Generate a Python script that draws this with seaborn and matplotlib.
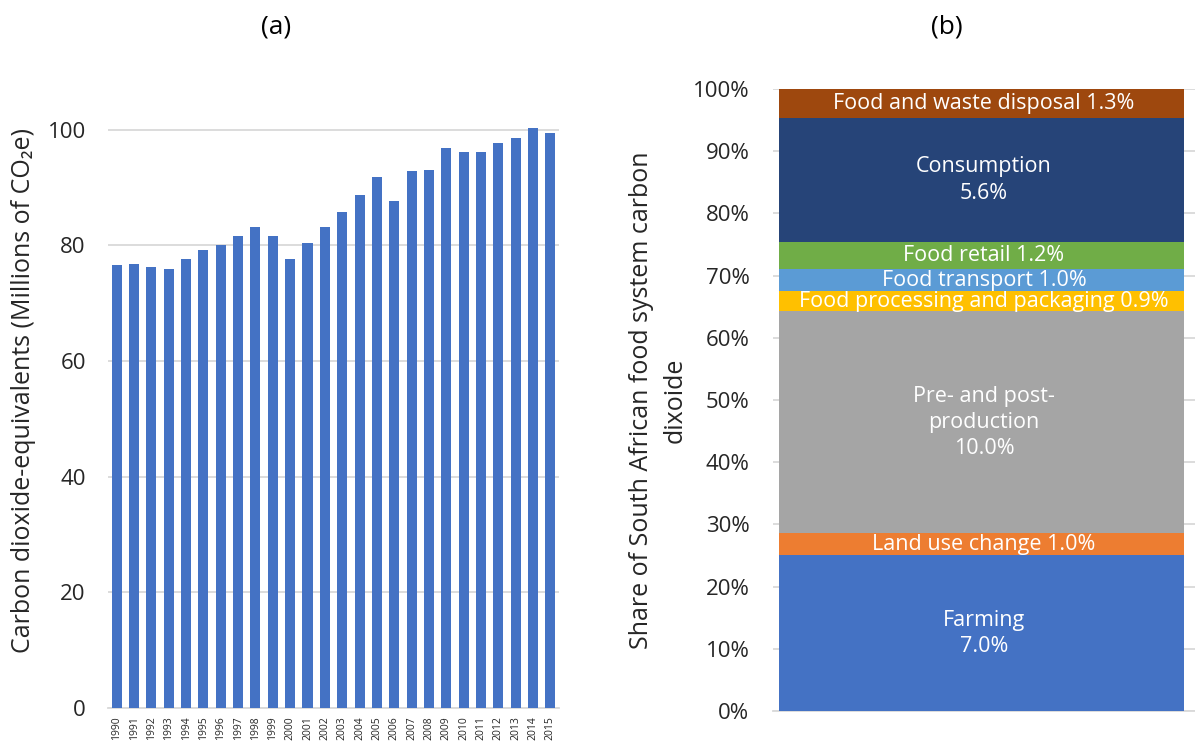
import matplotlib
matplotlib.use("Agg")
import matplotlib.pyplot as plt
import seaborn as sns
import numpy as np
import pandas as pd
from matplotlib.ticker import PercentFormatter

# (a) annual food-system emissions, millions of CO2e
years = list(range(1990, 2016))
emissions = [76.6, 76.8, 76.2, 75.9, 77.7, 79.3, 80.1, 81.6, 83.2, 81.7,
             77.7, 80.4, 83.2, 85.8, 88.8, 91.9, 87.7, 92.8, 93.0, 96.8,
             96.2, 96.2, 97.8, 98.6, 100.4, 99.4]

# (b) stages of the food system, share of national emissions (%)
stages = ["Farming", "Land use change", "Pre- and post-\nproduction",
          "Food processing and packaging", "Food transport", "Food retail",
          "Consumption", "Food and waste disposal"]
stage_pct = [7.0, 1.0, 10.0, 0.9, 1.0, 1.2, 5.6, 1.3]
label_break = ["\n", " ", "\n", " ", " ", " ", "\n", " "]
stage_colors = ["#4472C4", "#ED7D31", "#A5A5A5", "#FFC000",
                "#5B9BD5", "#70AD47", "#264478", "#9E480E"]

sns.set_style("white")
plt.rcParams["font.family"] = ["Open Sans", "DejaVu Sans"]

fig = plt.figure(figsize=(11.95, 7.47), dpi=100)
grid_col = "#D9D9D9"
text_col = "#262626"

# ---- (a) bar chart ----
ax1 = fig.add_axes([0.0904, 0.0522, 0.3774, 0.8514])
df_a = pd.DataFrame({"year": [str(y) for y in years], "emissions": emissions})
sns.barplot(data=df_a, x="year", y="emissions", color="#4472C4",
            saturation=1, width=0.58, linewidth=0, ax=ax1, zorder=3)
ax1.set_ylim(0, 110)
ax1.set_yticks(np.arange(0, 101, 20))
ax1.yaxis.grid(True, color=grid_col, lw=1.3, zorder=0)
ax1.set_axisbelow(True)
for s in ["top", "right", "left"]:
    ax1.spines[s].set_visible(False)
ax1.spines["bottom"].set_color(grid_col)
ax1.spines["bottom"].set_linewidth(1.3)
ax1.tick_params(axis="both", length=0)
ax1.tick_params(axis="y", labelsize=16, labelcolor=text_col, pad=16)
ax1.tick_params(axis="x", labelsize=7.5, labelcolor=text_col, labelrotation=90, pad=6)
ax1.set_xlabel("")
ax1.set_ylabel("Carbon dioxide-equivalents (Millions of CO\u2082e)",
               fontsize=18, color=text_col, labelpad=8)

# ---- (b) stacked share bar ----
ax2 = fig.add_axes([773 / 1195, 0.0482, 422 / 1195, 0.8327])
shares = np.array(stage_pct) / sum(stage_pct)
tops = np.cumsum(shares)
bottoms = tops - shares
# draw cumulative heights from the top down so each layer covers the one above
for i in range(len(stages) - 1, -1, -1):
    sns.barplot(x=["total"], y=[tops[i]], color=stage_colors[i], saturation=1,
                width=0.96, linewidth=0, ax=ax2, zorder=3)
for i, name in enumerate(stages):
    ax2.text(0.006, (bottoms[i] + tops[i]) / 2,
             f"{name}{label_break[i]}{stage_pct[i]:.1f}%",
             ha="center", va="center", color="white", fontsize=15.5,
             linespacing=1.32, zorder=5)
ax2.set_xlim(-0.494, 0.506)
ax2.set_ylim(0, 1)
ax2.set_yticks(np.arange(0, 1.01, 0.1))
ax2.yaxis.set_major_formatter(PercentFormatter(1.0, decimals=0))
ax2.yaxis.grid(True, color=grid_col, lw=1.3, zorder=0)
ax2.set_axisbelow(True)
for s in ["top", "right", "left"]:
    ax2.spines[s].set_visible(False)
ax2.spines["bottom"].set_color(grid_col)
ax2.spines["bottom"].set_linewidth(1.3)
ax2.tick_params(axis="both", length=0)
ax2.tick_params(axis="y", labelsize=16, labelcolor=text_col, pad=17)
ax2.set_xticks([])
ax2.set_xlabel("")
ax2.set_ylabel("Share of South African food system carbon\ndixoide",
               fontsize=18, color=text_col, labelpad=4, linespacing=1.45)

fig.text(276 / 1195, 1 - 27 / 747, "(a)", ha="center", va="center",
         fontsize=19, color="black")
fig.text(947 / 1195, 1 - 27 / 747, "(b)", ha="center", va="center",
         fontsize=19, color="black")

fig.savefig("out.png", dpi=100)
